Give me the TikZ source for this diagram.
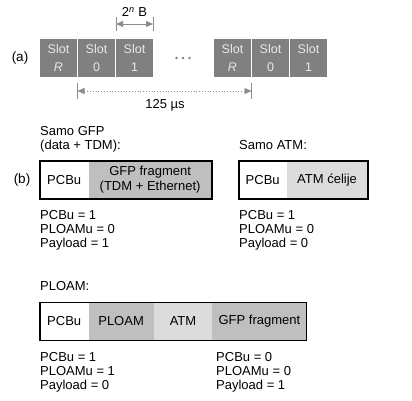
\documentclass[tikz,border=0pt]{standalone}
\usepackage{fontspec}
\setmainfont{Liberation Sans}
\usetikzlibrary{arrows.meta}
\definecolor{slotgray}{HTML}{808080}
\definecolor{slottext}{HTML}{E8E8E8}
\definecolor{darkfill}{HTML}{BFBFBF}
\definecolor{lightfill}{HTML}{DCDCDC}
\definecolor{arrowgray}{HTML}{8C8C8C}
\tikzset{
  every node/.style={font=\fontsize{13}{15}\selectfont},
  slotbox/.style={fill=slotgray, text=slottext, minimum width=37pt, minimum height=38pt,
    inner sep=0pt, align=center, font=\fontsize{12.5}{18}\selectfont},
  cell/.style={minimum height=38pt, inner sep=0pt, align=center, anchor=west},
  lbl/.style={anchor=base west, inner sep=0pt},
  partlbl/.style={inner sep=0pt, font=\fontsize{13.5}{15}\selectfont},
  frame/.style={draw=black, line width=1.5pt},
  tick/.style={draw=arrowgray, line width=0.8pt},
  dim/.style={draw=arrowgray, line width=0.8pt, {Triangle[length=7pt,width=6pt]}-{Triangle[length=7pt,width=6pt]}}
}
\begin{document}
\begin{tikzpicture}[x=1pt,y=-1pt]
\useasboundingbox (0,0) rectangle (412,400);
% (a)
\node[partlbl] (la) at (20,58) {(a)};
\node[slotbox] (s1) at (58.5,58) {Slot\\\itshape R};
\node[slotbox] (s2) at (96.5,58) {Slot\\0};
\node[slotbox] (s3) at (134.5,58) {Slot\\1};
\node[slotbox] (s4) at (232.5,58) {Slot\\\itshape R};
\node[slotbox] (s5) at (270.5,58) {Slot\\0};
\node[slotbox] (s6) at (308.5,58) {Slot\\1};
\foreach \x in {176.5,183,189.5} \fill[slotgray] (\x,58) circle (1.3);
% 2^n B
\coordinate (bl) at (116,24);
\coordinate (br) at (153,24);
\draw[tick] (116,17) -- (116,31);
\draw[tick] (153,17) -- (153,31);
\draw[dim] (bl) -- (br);
\node[inner sep=0pt] (nb) at (134.5,12) {2\textsuperscript{\itshape n} B};
% 125 us
\coordinate (tl) at (77.5,91);
\coordinate (tr) at (251.5,91);
\draw[tick] (77.5,83) -- (77.5,99);
\draw[tick] (251.5,83) -- (251.5,99);
\draw[dim, dotted] (tl) -- (tr);
\draw[dim, draw=none, fill=none] (tl) -- (tr);
\node[inner sep=0pt] (tus) at (165,105) {125 µs};
% (b)
\node[partlbl] (lb) at (22,180) {(b)};
\node[lbl] (t1a) at (40,135.7) {Samo GFP};
\node[lbl] (t1b) at (40,149.7) {(data + TDM):};
\node[cell, minimum width=48pt] (b1p) at (40,180) {PCBu};
\node[cell, minimum width=123pt, fill=darkfill] (b1g) at (b1p.east) {GFP fragment\\(TDM + Ethernet)};
\draw[frame] (b1p.north west) rectangle (b1g.south east);
\node[lbl] (v1a) at (40,219.7) {PCBu = 1};
\node[lbl] (v1b) at (40,233.7) {PLOAMu = 0};
\node[lbl] (v1c) at (40,247.7) {Payload = 1};

\node[lbl] (t2) at (239,149.7) {Samo ATM:};
\node[cell, minimum width=47pt] (b2p) at (239,180) {PCBu};
\node[cell, minimum width=81pt, fill=lightfill] (b2a) at (b2p.east) {ATM ćelije};
\draw[frame] (b2p.north west) rectangle (b2a.south east);
\node[lbl] (v2a) at (239,219.7) {PCBu = 1};
\node[lbl] (v2b) at (239,233.7) {PLOAMu = 0};
\node[lbl] (v2c) at (239,247.7) {Payload = 0};

\node[lbl] (t3) at (40,290.7) {PLOAM:};
\node[cell, minimum width=48pt] (b3p) at (40,321.5) {PCBu};
\node[cell, minimum width=65pt, fill=darkfill] (b3l) at (b3p.east) {PLOAM};
\node[cell, minimum width=58pt, fill=lightfill] (b3a) at (b3l.east) {ATM};
\node[cell, minimum width=94pt, fill=darkfill] (b3g) at (b3a.east) {GFP fragment};
\draw[frame] (b3p.north west) rectangle (b3g.south east);
\node[lbl] (v3a) at (40,361.7) {PCBu = 1};
\node[lbl] (v3b) at (40,375.7) {PLOAMu = 1};
\node[lbl] (v3c) at (40,389.7) {Payload = 0};
\node[lbl] (v4a) at (216,361.7) {PCBu = 0};
\node[lbl] (v4b) at (216,375.7) {PLOAMu = 0};
\node[lbl] (v4c) at (216,389.7) {Payload = 1};
\end{tikzpicture}
\end{document}
